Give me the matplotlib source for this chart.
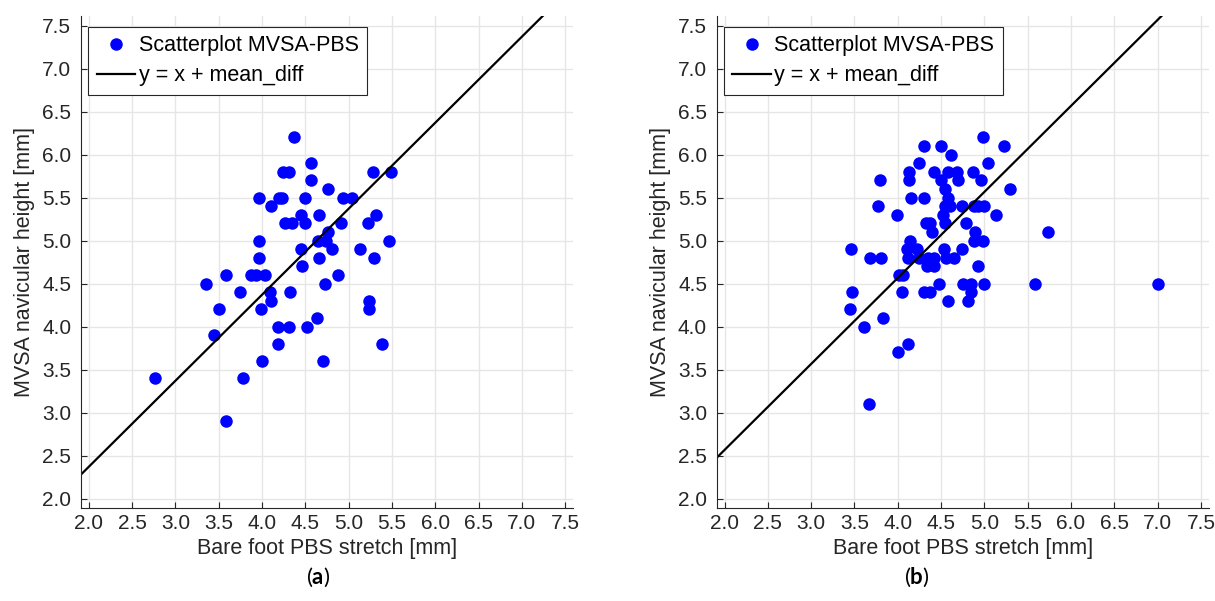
import numpy as np
import matplotlib
matplotlib.use('Agg')
import matplotlib.pyplot as plt

plt.rcParams['font.family'] = ['Liberation Sans', 'DejaVu Sans']
plt.rcParams['mathtext.fontset'] = 'custom'
plt.rcParams['mathtext.rm'] = 'Lato'
plt.rcParams['mathtext.bf'] = 'Lato:bold'

# ---- data ----
# (a) bare foot PBS stretch vs MVSA navicular height
xa = [2.76, 3.58, 3.78, 3.45, 3.50, 3.35, 3.58, 3.75, 3.87, 3.93, 4.03, 3.97,
      3.97, 3.97, 3.99, 4.00, 4.09, 4.10, 4.10, 4.19, 4.23, 4.24, 4.31, 4.37,
      4.26, 4.35, 4.18, 4.31, 4.18, 4.32, 4.56, 4.56, 4.50, 4.45, 4.50, 4.66,
      4.76, 4.45, 4.46, 4.52, 4.64, 4.70, 4.65, 4.66, 4.73, 4.74, 4.76, 4.81,
      4.88, 4.91, 4.93, 5.04, 5.13, 5.22, 5.31, 5.29, 5.24, 5.24, 5.39, 5.28,
      5.49, 5.47]
ya = [3.4, 2.9, 3.4, 3.9, 4.2, 4.5, 4.6, 4.4, 4.6, 4.6, 4.6, 4.8,
      5.0, 5.5, 4.2, 3.6, 4.4, 4.3, 5.4, 5.5, 5.5, 5.8, 5.8, 6.2,
      5.2, 5.2, 4.0, 4.0, 3.8, 4.4, 5.9, 5.7, 5.5, 5.3, 5.2, 5.3,
      5.6, 4.9, 4.7, 4.0, 4.1, 3.6, 5.0, 4.8, 4.5, 5.0, 5.1, 4.9,
      4.6, 5.2, 5.5, 5.5, 4.9, 5.2, 5.3, 4.8, 4.3, 4.2, 3.8, 5.8,
      5.8, 5.0]
mean_diff_a = 0.37

# (b)
xb = [4.99,
      4.30, 4.50, 5.23,
      4.62,
      4.24, 5.04,
      4.13, 4.42, 4.58, 4.68, 4.87,
      3.80, 4.13, 4.50, 4.70, 4.96,
      4.55, 5.30,
      4.15, 4.30, 4.58,
      3.77, 4.54, 4.60, 4.74, 4.88, 4.93, 5.00,
      3.99, 4.52, 5.13,
      4.33, 4.37, 4.55, 4.79,
      4.40, 4.89, 5.73,
      4.14, 4.88, 4.98,
      3.46, 4.11, 4.22, 4.53, 4.74,
      3.68, 3.81, 4.12, 4.25, 4.35, 4.42, 4.56, 4.65,
      4.34, 4.42, 4.93,
      4.02, 4.06,
      4.48, 4.75, 4.85, 5.00, 5.59, 7.00,
      3.47, 4.05, 4.30, 4.37, 4.85,
      4.58, 4.81,
      3.45, 3.83, 3.61, 4.12, 4.00, 3.67]
yb = [6.2,
      6.1, 6.1, 6.1,
      6.0,
      5.9, 5.9,
      5.8, 5.8, 5.8, 5.8, 5.8,
      5.7, 5.7, 5.7, 5.7, 5.7,
      5.6, 5.6,
      5.5, 5.5, 5.5,
      5.4, 5.4, 5.4, 5.4, 5.4, 5.4, 5.4,
      5.3, 5.3, 5.3,
      5.2, 5.2, 5.2, 5.2,
      5.1, 5.1, 5.1,
      5.0, 5.0, 5.0,
      4.9, 4.9, 4.9, 4.9, 4.9,
      4.8, 4.8, 4.8, 4.8, 4.8, 4.8, 4.8, 4.8,
      4.7, 4.7, 4.7,
      4.6, 4.6,
      4.5, 4.5, 4.5, 4.5, 4.5, 4.5,
      4.4, 4.4, 4.4, 4.4, 4.4,
      4.3, 4.3,
      4.2, 4.1, 4.0, 3.8, 3.7, 3.1]
mean_diff_b = 0.565

ticks = np.arange(2.0, 7.51, 0.5)
tick_labels = ['%.1f' % t for t in ticks]
xlim = (1.91, 7.59)
ylim = (1.89, 7.61)

fig = plt.figure(figsize=(12.15, 6.01), dpi=100)

def panel(left, x, y, md, tag, tag_x):
    ax = fig.add_axes([left, 0.1547, 0.4049, 0.8186])
    ax.plot(x, y, 'o', color='#0000ff', markersize=9, markeredgewidth=0,
            label='Scatterplot MVSA-PBS')
    lx = np.array(xlim)
    ax.plot(lx, lx + md, '-', color='black', linewidth=1.6,
            label='y = x + mean_diff')
    ax.set_xlim(xlim)
    ax.set_ylim(ylim)
    ax.set_xticks(ticks)
    ax.set_xticklabels(tick_labels)
    ax.set_yticks(ticks)
    ax.set_yticklabels(tick_labels)
    ax.grid(True, color='#e6e6e6', linewidth=1)
    ax.set_axisbelow(True)
    for s in ['top', 'right']:
        ax.spines[s].set_visible(False)
    for s in ['left', 'bottom']:
        ax.spines[s].set_color('#262626')
        ax.spines[s].set_linewidth(0.8)
    ax.tick_params(direction='in', length=4, width=0.8, color='#262626',
                   labelcolor='#262626', labelsize=15)
    ax.tick_params(axis='y', pad=7)
    ax.tick_params(axis='x', pad=4)
    ax.set_xlabel('Bare foot PBS stretch [mm]', fontsize=15.5, color='#262626',
                  labelpad=4)
    ax.set_ylabel('MVSA navicular height [mm]', fontsize=15.5, color='#262626',
                  labelpad=5)
    leg = ax.legend(loc='upper left', bbox_to_anchor=(0.014, 0.978),
                    borderaxespad=0, fontsize=15.5, numpoints=1,
                    fancybox=False, framealpha=1, edgecolor='#262626',
                    handlelength=1.8, handletextpad=0.15, borderpad=0.4,
                    labelspacing=0.4)
    leg.get_frame().set_linewidth(0.8)
    fig.text(tag_x, 0.04, r'($\mathbf{%s}$)' % tag,
             ha='center', va='center', fontsize=16, family='Lato')
    return ax

panel(0.0667, xa, ya, mean_diff_a, 'a', 0.2617)
panel(0.5899, xb, yb, mean_diff_b, 'b', 0.7547)

fig.savefig('out.png', dpi=100)
